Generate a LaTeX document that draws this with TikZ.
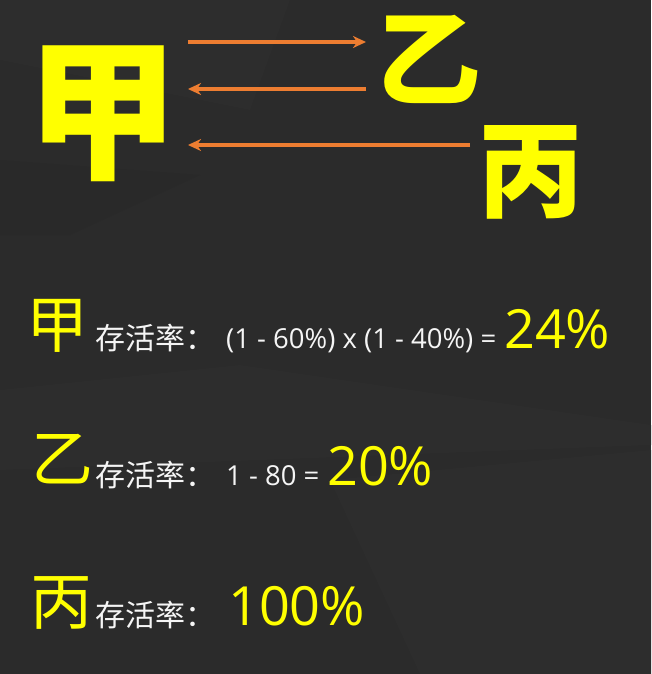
\documentclass[tikz,border=0pt]{standalone}
\usepackage{fontspec}
\setmainfont{Open Sans}
\newfontfamily\cjk{Noto Sans CJK SC}
\usetikzlibrary{arrows.meta}
\definecolor{bgc}{HTML}{2B2B2B}
\definecolor{bgl}{HTML}{2D2D2D}
\definecolor{bgd}{HTML}{292929}
\definecolor{ylw}{HTML}{FFFF00}
\definecolor{org}{HTML}{ED7D31}
\definecolor{wht}{HTML}{F5F5F5}
\begin{document}
\begin{tikzpicture}[x=1pt,y=-1pt,
  bigchar/.style={text=ylw, inner sep=0pt, font=\cjk\bfseries\fontsize{105}{110}\selectfont},
  smallchar/.style={text=ylw, inner sep=0pt, font=\cjk\fontsize{62}{66}\selectfont},
  label/.style={text=wht, inner sep=0pt, anchor=base west, font=\cjk\fontsize{30}{33}\selectfont},
  formula/.style={text=wht, inner sep=0pt, anchor=base west, font=\fontsize{27.5}{30}\selectfont},
  result/.style={text=ylw, inner sep=0pt, anchor=base west, font=\fontsize{54}{60}\selectfont},
  arr/.style={draw=org, line width=3.5pt, -{Stealth[length=13pt,width=12pt,inset=4pt]}}]
\fill[bgc] (0,0) rectangle (651,674);
\useasboundingbox (0,0) rectangle (651,674);
% subtle background facets
\fill[bgl] (0,0) -- (290,0) -- (250,110) -- (0,60) -- cycle;
\fill[bgd] (0,160) -- (200,175) -- (70,235) -- (0,235) -- cycle;
\fill[bgl] (0,390) -- (240,365) -- (651,425) -- (651,445) -- (0,470) -- cycle;
\fill[bgl] (330,480) -- (651,450) -- (651,674) -- (420,674) -- cycle;
% big characters
\node[bigchar, font=\cjk\bfseries\fontsize{152}{160}\selectfont] (jia) at (103,114) {甲};
\node[bigchar] (yi) at (429,59) {乙};
\node[bigchar] (bing) at (531,172) {丙};
% arrows
\coordinate (a1s) at (188,42);
\coordinate (a1e) at (366,42);
\coordinate (a2s) at (366,89);
\coordinate (a2e) at (188,89);
\coordinate (a3s) at (470,145);
\coordinate (a3e) at (188,145);
\draw[arr] (a1s) -- (a1e);
\draw[arr] (a2s) -- (a2e);
\draw[arr] (a3s) -- (a3e);
% row 1
\node[smallchar] (jia2) at (58,326) {甲};
\node[label] (l1) at (95,349) {存活率：};
\node[formula] (f1) at (226,348) {(1 - 60\%) x (1 - 40\%) =};
\node[result] (r1) at (504,348) {24\%};
% row 2
\node[smallchar] (yi2) at (62,459) {乙};
\node[label] (l2) at (95,486) {存活率：};
\node[formula] (f2) at (226,485) {1 - 80 =};
\node[result] (r2) at (327,485) {20\%};
% row 3
\node[smallchar] (bing2) at (61,603) {丙};
\node[label] (l3) at (95,626) {存活率：};
\node[result] (r3) at (228,625) {100\%};
\end{tikzpicture}
\end{document}
